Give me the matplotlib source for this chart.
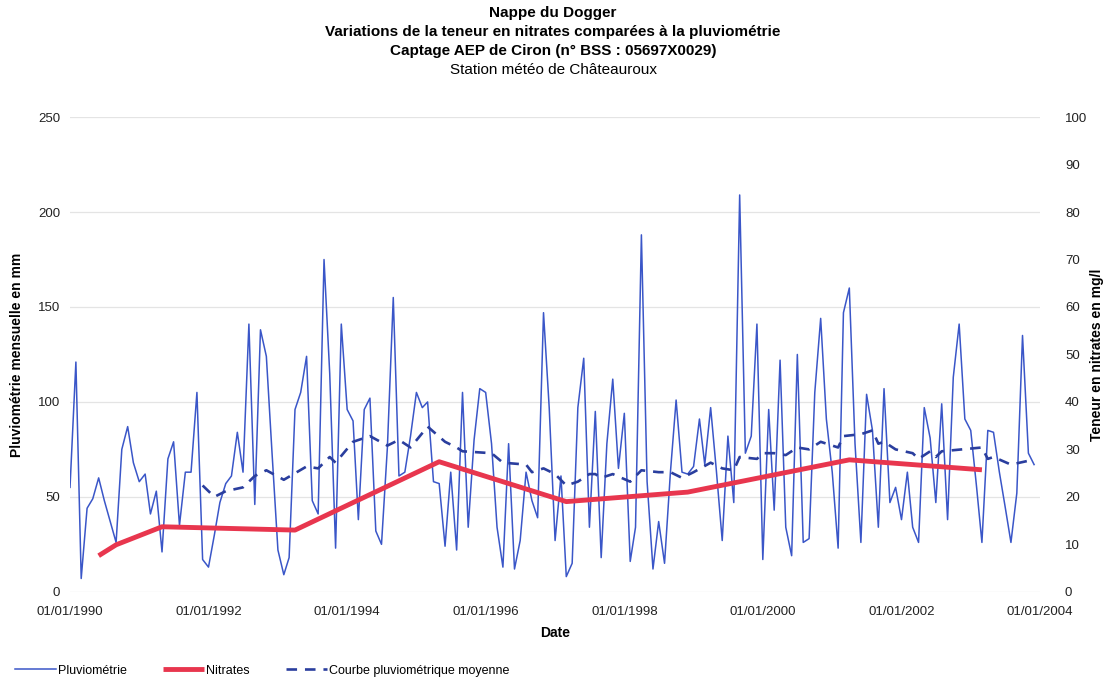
import matplotlib

matplotlib.use("Agg")
import matplotlib.dates as mdates
import matplotlib.pyplot as plt
import pandas as pd

plt.rcParams["font.family"] = ["Liberation Sans", "DejaVu Sans"]

# monthly rainfall (mm), Jan 1990 -> Dec 2003
rain_mm = [
    55, 121, 7, 44, 49, 60, 48, 37, 26, 75, 87, 68,
    58, 62, 41, 53, 21, 70, 79, 35, 63, 63, 105, 17,
    13, 30, 47, 57, 61, 84, 63, 141, 46, 138, 124, 73,
    22, 9, 18, 96, 105, 124, 48, 41, 175, 115, 23, 141,
    96, 90, 38, 96, 102, 32, 25, 76, 155, 61, 63, 82,
    105, 97, 100, 58, 57, 24, 63, 22, 105, 34, 80, 107,
    105, 78, 34, 13, 78, 12, 27, 63, 48, 39, 147, 97,
    27, 61, 8, 15, 97, 123, 34, 95, 18, 78, 112, 65,
    94, 16, 34, 188, 58, 12, 37, 15, 63, 101, 63, 62,
    66, 91, 67, 97, 64, 27, 82, 47, 209, 73, 82, 141,
    17, 96, 43, 122, 34, 19, 125, 26, 28, 105, 144, 91,
    63, 23, 147, 160, 78, 26, 104, 85, 34, 107, 47, 55,
    38, 63, 34, 26, 97, 81, 47, 99, 38, 113, 141, 91,
    85, 55, 26, 85, 84, 63, 45, 26, 52, 135, 73, 67,
]

# mean rainfall curve (mm)
avg_dates = [
    "1991-12", "1992-02", "1992-04", "1992-07", "1992-09", "1992-11", "1993-02",
    "1993-06", "1993-08", "1993-10", "1993-11", "1994-02", "1994-05", "1994-08",
    "1994-10", "1994-12", "1995-03", "1995-06", "1995-08", "1995-09", "1996-02",
    "1996-04", "1996-08", "1996-09", "1996-11", "1997-01", "1997-03", "1997-05",
    "1997-07", "1997-08", "1997-09", "1997-11", "1998-02", "1998-04", "1998-07",
    "1998-09", "1998-11", "1999-01", "1999-04", "1999-06", "1999-08", "1999-09",
    "1999-12", "2000-01", "2000-03", "2000-05", "2000-07", "2000-09", "2000-11",
    "2001-02", "2001-03", "2001-06", "2001-08", "2001-09", "2001-10", "2001-12",
    "2002-03", "2002-04", "2002-06", "2002-07", "2002-08", "2003-03", "2003-04",
    "2003-05", "2003-08", "2003-11",
]
avg_mm = [
    56, 50, 53, 55, 61, 64, 59,
    66, 65, 71, 68, 79, 82, 77,
    80, 76, 87, 79, 76, 74, 73,
    68, 67, 63, 65, 62, 56, 58,
    62, 62, 60, 62, 58, 64, 63,
    63, 60, 63, 68, 65, 64, 71,
    70, 73, 73, 72, 76, 75, 79,
    76, 82, 83, 85, 78, 79, 75,
    73, 70, 74, 71, 74, 76, 70,
    71, 67, 69,
]

# nitrate content (mg/l)
nitrate_dates = ["1990-06", "1990-09", "1991-05", "1993-04", "1995-05",
                 "1997-03", "1998-12", "2001-04", "2003-03"]
nitrate_mgl = [7.6, 9.9, 13.7, 13.0, 27.4, 19.0, 21.0, 27.8, 25.7]

x_ticks = ["1990", "1992", "1994", "1996", "1998", "2000", "2002", "2004"]

BLUE = "#3a56c8"
DARK_BLUE = "#2a3e9e"
RED = "#e8364e"

rain_dates = pd.date_range("1990-01-01", periods=len(rain_mm), freq="MS")

fig = plt.figure(figsize=(11.06, 6.81), dpi=100)
ax = fig.add_axes([0.0633, 0.131, 0.8770, 0.697])
ax2 = ax.twinx()

l1, = ax.plot(rain_dates, rain_mm, color=BLUE, linewidth=1.1, label="Pluviométrie")
l3, = ax.plot(pd.to_datetime(avg_dates), avg_mm, color=DARK_BLUE, linewidth=1.9,
              dashes=(4, 3), label="Courbe pluviométrique moyenne")
l2, = ax2.plot(pd.to_datetime(nitrate_dates), nitrate_mgl, color=RED, linewidth=3.5,
               solid_capstyle="butt", label="Nitrates")

ax.set_ylim(0, 250)
ax.set_yticks(range(0, 251, 50))
ax2.set_ylim(0, 100)
ax2.set_yticks(range(0, 101, 10))
ax.set_xlim(pd.Timestamp("1990-01-01"), pd.Timestamp("2004-01-01"))
ax.set_xticks([pd.Timestamp(f"{y}-01-01") for y in x_ticks])
ax.xaxis.set_major_formatter(mdates.DateFormatter("%d/%m/%Y"))

ax.grid(axis="y", color="#e4e4e4", linewidth=0.9)
ax.set_axisbelow(True)
for a in (ax, ax2):
    for s in a.spines.values():
        s.set_visible(False)
    a.tick_params(length=0, labelsize=9.5, colors="#222222")
ax.tick_params(axis="x", pad=10)
ax.tick_params(axis="y", pad=7)
ax2.tick_params(axis="y", pad=18)

ax.set_xlabel("Date", fontsize=10, fontweight="bold", labelpad=6)
ax.set_ylabel("Pluviométrie mensuelle en mm", fontsize=10, fontweight="bold", labelpad=10)
ax2.set_ylabel("Teneur en nitrates en mg/l", fontsize=10, fontweight="bold", labelpad=2)

fig.text(0.5, 0.981, "Nappe du Dogger", ha="center", va="center", fontsize=11, fontweight="bold")
fig.text(0.5, 0.953, "Variations de la teneur en nitrates comparées à la pluviométrie",
         ha="center", va="center", fontsize=11, fontweight="bold")
fig.text(0.5, 0.925, "Captage AEP de Ciron (n° BSS : 05697X0029)",
         ha="center", va="center", fontsize=11, fontweight="bold")
fig.text(0.5, 0.897, "Station météo de Châteauroux", ha="center", va="center", fontsize=11)

fig.legend(handles=[l1, l2, l3], loc="lower left", bbox_to_anchor=(0.003, -0.01), ncol=3,
           frameon=False, fontsize=9, handlelength=3.3, handletextpad=0.15, columnspacing=2.9)

fig.savefig("out.png", dpi=100)
